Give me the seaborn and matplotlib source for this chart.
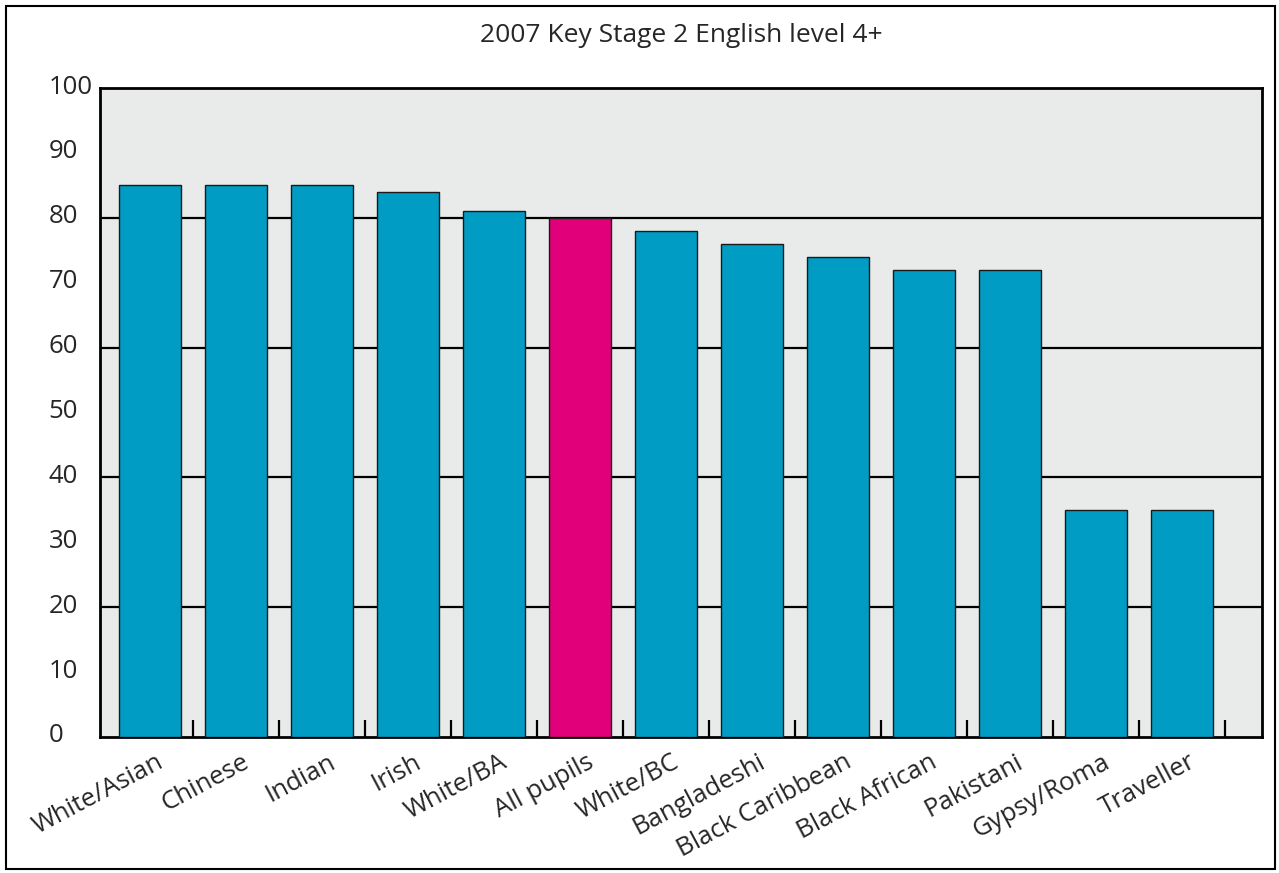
import matplotlib
matplotlib.use("Agg")
import matplotlib.pyplot as plt
import matplotlib.transforms as mtransforms
from matplotlib.patches import Rectangle
from matplotlib.ticker import FixedLocator, MultipleLocator
import seaborn as sns
import pandas as pd

# Data
groups = ['White/Asian', 'Chinese', 'Indian', 'Irish', 'White/BA', 'All pupils',
          'White/BC', 'Bangladeshi', 'Black Caribbean', 'Black African',
          'Pakistani', 'Gypsy/Roma', 'Traveller']
scores = [85, 85, 85, 84, 81, 80, 78, 76, 74, 72, 72, 35, 35]
highlight = 'All pupils'
title = '2007 Key Stage 2 English level 4+'

df = pd.DataFrame({'group': groups, 'score': scores})
df['kind'] = ['all' if g == highlight else 'group' for g in groups]

sns.set_theme(style='white')
plt.rcParams['font.family'] = ['Open Sans', 'DejaVu Sans']

W, H = 1279, 873
fig = plt.figure(figsize=(W / 100, H / 100), dpi=100)
fig.patch.set_facecolor('white')
fig.patches.append(Rectangle((6 / W, 4 / H), 1 - 10 / W, 1 - 10 / H, transform=fig.transFigure,
                             fill=False, edgecolor='black', linewidth=1.5))

ax = fig.add_axes([100 / W, 1 - 737 / H, 1162 / W, 649 / H])
ax.set_facecolor('#E9EAEA')

sns.barplot(data=df, x='group', y='score', hue='kind', dodge=False,
            palette={'group': '#009CC4', 'all': '#E2007A'},
            width=0.72, edgecolor='#1a1a1a', linewidth=1.0, legend=False,
            saturation=1, ax=ax, zorder=3)

# horizontal rules every 20
for y in range(20, 100, 20):
    ax.axhline(y, color='black', linewidth=1.6, zorder=1)

ax.set_ylim(0, 100)
ax.set_xlim(-0.58, 12.93)
ax.set_xlabel('')
ax.set_ylabel('')

ax.yaxis.set_major_locator(MultipleLocator(10))
ax.tick_params(axis='y', length=0, pad=37, labelsize=18.5)
yshift = mtransforms.ScaledTranslation(0, 4 / 100, fig.dpi_scale_trans)
for lab in ax.get_yticklabels():
    lab.set_horizontalalignment('left')
    lab.set_transform(lab.get_transform() + yshift)

# short inward ticks between categories
ax.xaxis.set_minor_locator(FixedLocator([i + 0.5 for i in range(len(groups))]))
ax.tick_params(axis='x', which='minor', direction='in', length=12, width=1.6,
               color='black', bottom=True)
ax.tick_params(axis='x', which='major', length=0, pad=9, labelsize=18.5)
offset = mtransforms.ScaledTranslation(6 / 100, 0, fig.dpi_scale_trans)
for lab in ax.get_xticklabels():
    lab.set_rotation(28)
    lab.set_horizontalalignment('right')
    lab.set_verticalalignment('top')
    lab.set_rotation_mode('anchor')
    lab.set_transform(lab.get_transform() + offset)

for s in ax.spines.values():
    s.set_visible(True)
    s.set_color('black')
    s.set_linewidth(2)

fig.text((100 + 1262) / 2 / W, 1 - 35 / H, title, ha='center', va='center', fontsize=19)

fig.savefig('out.png', dpi=100)
